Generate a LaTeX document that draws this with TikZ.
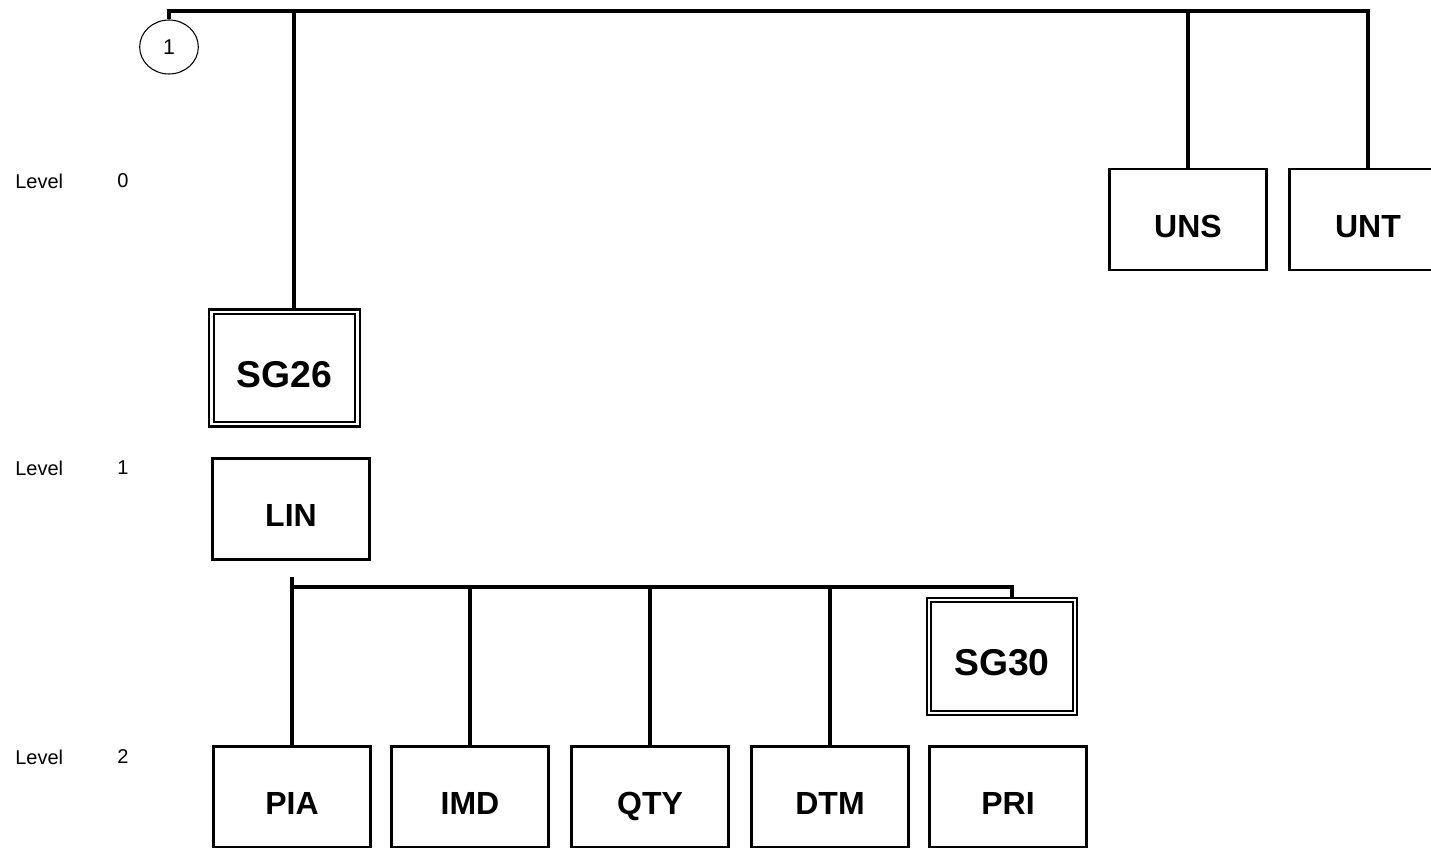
\documentclass[tikz,border=0pt]{standalone}
\usepackage{fontspec}
\setmainfont{Liberation Sans}
\usetikzlibrary{shapes.geometric}

\begin{document}
\begin{tikzpicture}[x=0.75pt, y=-0.75pt,
  bus/.style={line width=2.4pt},
  unitbox/.style={draw, line width=1.9pt, minimum width=118pt, minimum height=76pt, inner sep=0pt, text height=26.5pt, text depth=0pt, font=\fontsize{24}{28}\selectfont\bfseries},
  groupbox/.style={unitbox, double, line width=1.6pt, double distance=1.7pt, minimum width=109.5pt, minimum height=84.5pt, text height=29pt, font=\fontsize{28}{32}\selectfont\bfseries},
  levellabel/.style={anchor=west, inner sep=0pt, font=\fontsize{15}{18}\selectfont}]
\path[use as bounding box, clip] (0,0) rectangle (1431,848);
% level labels
\node[levellabel] (lv0) at (15,181) {Level};
\node[levellabel] (lv0n) at (117,181) {0};
\node[levellabel] (lv1) at (15,468) {Level};
\node[levellabel] (lv1n) at (117,468) {1};
\node[levellabel] (lv2) at (15,757) {Level};
\node[levellabel] (lv2n) at (117,757) {2};
% boxes
\node[ellipse, draw, line width=0.8pt, minimum width=44pt, minimum height=40.5pt, inner sep=0pt, font=\fontsize{16}{18}\selectfont] (c1) at (169,47) {1};
\node[unitbox] (uns) at (1188,219.5) {UNS};
\node[unitbox] (unt) at (1368,219.5) {UNT};
\node[groupbox] (sg26) at (284.5,368) {SG26};
\node[unitbox] (lin) at (291,509) {LIN};
\node[groupbox] (sg30) at (1002,656.5) {SG30};
\node[unitbox] (pia) at (292,797) {PIA};
\node[unitbox] (imd) at (470,797) {IMD};
\node[unitbox] (qty) at (650,797) {QTY};
\node[unitbox] (dtm) at (830,797) {DTM};
\node[unitbox] (pri) at (1008,797) {PRI};
% level 0 bus
\coordinate (t0) at (169,11);
\coordinate (t1) at (294,11);
\coordinate (tend) at (1368,11);
\draw[bus] (c1.north) -- (t0) -- (tend) -- (unt.north);
\draw[bus] (t0 -| uns) -- (uns.north);
\draw[bus] (t1) -- (t1 |- sg26.north);
% level 2 bus
\coordinate (l0) at (292,577);
\coordinate (b2) at (292,587);
\coordinate (b2e) at (1012,587);
\draw[bus] (l0) -- (pia.north);
\draw[bus] (b2) -- (b2e) -- (b2e |- sg30.north);
\foreach \u in {imd,qty,dtm}
  \draw[bus] (b2 -| \u) -- (\u.north);
\end{tikzpicture}
\end{document}
